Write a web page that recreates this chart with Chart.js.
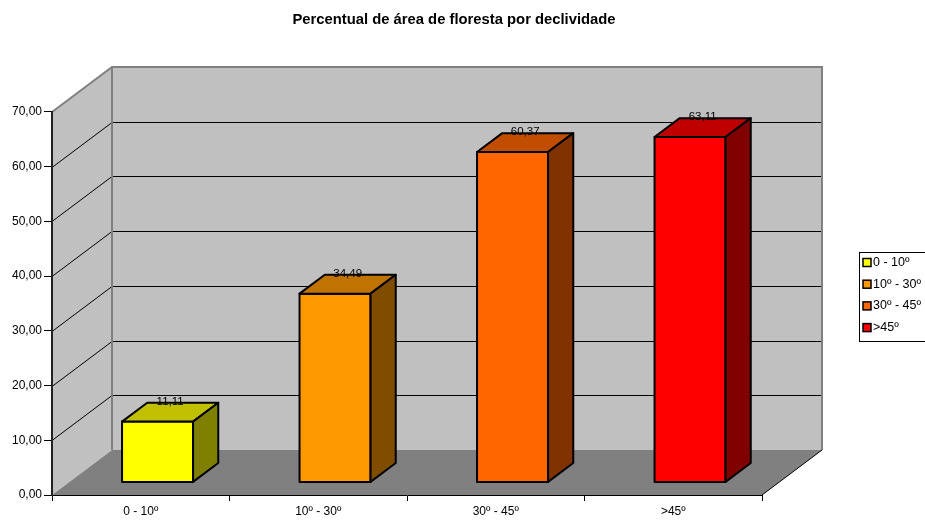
<!DOCTYPE html>
<html>
<head>
<meta charset="utf-8">
<script src="https://cdn.jsdelivr.net/npm/chart.js@4"></script>
<style>
  html, body { margin: 0; padding: 0; background: #fff; }
  #wrap { width: 925px; height: 520px; }
</style>
</head>
<body>
<div id="wrap"><canvas id="chart" width="925" height="520"></canvas></div>
<script>
const categories = ['0 - 10º', '10º - 30º', '30º - 45º', '>45º'];
const values = [11.11, 34.49, 60.37, 63.11];
const frontColors = ['#ffff00', '#ff9900', '#ff6600', '#ff0000'];
const topColors = ['#c0c000', '#c07300', '#c04d00', '#c00000'];
const sideColors = ['#808000', '#804d00', '#803300', '#800000'];
const chartTitle = 'Percentual de área de floresta por declividade';

const FONT = 'Arial, "Liberation Sans", sans-serif';

// 3D depth of the plot box and where the columns sit inside it
const DEPTH_X = 60, DEPTH_Y = -45;
const BAR_FRONT = 0.28, BAR_BACK = 0.70;

function fmt(v) {
    return v.toFixed(2).replace('.', ',');
}

function poly(ctx, pts, fill, stroke, lw) {
    ctx.beginPath();
    ctx.moveTo(pts[0][0], pts[0][1]);
    for (let i = 1; i < pts.length; i++) ctx.lineTo(pts[i][0], pts[i][1]);
    ctx.closePath();
    if (fill) { ctx.fillStyle = fill; ctx.fill(); }
    if (stroke) { ctx.strokeStyle = stroke; ctx.lineWidth = lw || 1; ctx.stroke(); }
}

function line(ctx, pts, color, lw) {
    ctx.beginPath();
    ctx.moveTo(pts[0][0], pts[0][1]);
    for (let i = 1; i < pts.length; i++) ctx.lineTo(pts[i][0], pts[i][1]);
    ctx.strokeStyle = color;
    ctx.lineWidth = lw;
    ctx.stroke();
}

// walls, floor and gridlines of the 3D box
const wallsPlugin = {
    id: 'walls',
    beforeDraw(chart) {
        const ctx = chart.ctx;
        const { left: L, right: R, top: T, bottom: B } = chart.chartArea;
        const yScale = chart.scales.y;
        ctx.save();
        // left wall
        poly(ctx, [[L, T], [L + DEPTH_X, T + DEPTH_Y], [L + DEPTH_X, B + DEPTH_Y], [L, B]], '#c0c0c0');
        // back wall
        poly(ctx, [[L + DEPTH_X, T + DEPTH_Y], [R + DEPTH_X, T + DEPTH_Y], [R + DEPTH_X, B + DEPTH_Y], [L + DEPTH_X, B + DEPTH_Y]], '#c0c0c0');
        // floor
        poly(ctx, [[L, B], [L + DEPTH_X, B + DEPTH_Y], [R + DEPTH_X, B + DEPTH_Y], [R, B]], '#808080');

        // gridlines
        yScale.ticks.forEach(t => {
            if (t.value <= yScale.min || t.value >= yScale.max) return;
            const py = Math.round(yScale.getPixelForValue(t.value)) + 0.5;
            line(ctx, [[L, py], [L + DEPTH_X, py + DEPTH_Y], [R + DEPTH_X, py + DEPTH_Y]], '#000', 1);
        });

        // box edges
        line(ctx, [[L, T], [L + DEPTH_X, T + DEPTH_Y], [R + DEPTH_X, T + DEPTH_Y], [R + DEPTH_X, B + DEPTH_Y]], '#808080', 2);
        line(ctx, [[L + DEPTH_X, T + DEPTH_Y], [L + DEPTH_X, B + DEPTH_Y]], '#808080', 2);
        line(ctx, [[R, B], [R + DEPTH_X, B + DEPTH_Y]], '#000', 1);
        ctx.restore();
    }
};

// 3D columns built from the bar elements, plus value labels
const columnsPlugin = {
    id: 'columns',
    afterDatasetsDraw(chart) {
        const ctx = chart.ctx;
        const meta = chart.getDatasetMeta(0);
        const fx = BAR_FRONT * DEPTH_X, fy = BAR_FRONT * DEPTH_Y;
        const bx = BAR_BACK * DEPTH_X, by = BAR_BACK * DEPTH_Y;
        ctx.save();
        ctx.lineJoin = 'round';
        meta.data.forEach((el, i) => {
            const l = el.x - el.width / 2, r = el.x + el.width / 2;
            const t = el.y, b = el.base;
            poly(ctx, [[l + fx, t + fy], [r + fx, t + fy], [r + fx, b + fy], [l + fx, b + fy]], frontColors[i], '#000', 2);
            poly(ctx, [[l + fx, t + fy], [l + bx, t + by], [r + bx, t + by], [r + fx, t + fy]], topColors[i], '#000', 2);
            poly(ctx, [[r + fx, t + fy], [r + bx, t + by], [r + bx, b + by], [r + fx, b + fy]], sideColors[i], '#000', 2);
        });
        ctx.fillStyle = '#000';
        ctx.font = '11.5px ' + FONT;
        ctx.textAlign = 'center';
        ctx.textBaseline = 'middle';
        meta.data.forEach((el, i) => {
            const l = el.x - el.width / 2, r = el.x + el.width / 2;
            ctx.fillText(fmt(values[i]), (l + fx + r + bx) / 2, el.y + by - 1);
        });
        ctx.restore();
    }
};

// boxed legend on the right
const legendBoxPlugin = {
    id: 'legendBox',
    afterDraw(chart) {
        const ctx = chart.ctx;
        const x0 = 859, y0 = 252, rowH = 21.7;
        ctx.save();
        ctx.strokeStyle = '#000';
        ctx.lineWidth = 1;
        ctx.strokeRect(x0 + 0.5, y0 + 0.5, 80, 89);
        ctx.font = '12.5px ' + FONT;
        ctx.textAlign = 'left';
        ctx.textBaseline = 'middle';
        categories.forEach((c, i) => {
            const cy = y0 + 10.5 + i * rowH;
            ctx.fillStyle = frontColors[i];
            ctx.fillRect(x0 + 4, cy - 4, 8, 8);
            ctx.lineWidth = 1.5;
            ctx.strokeRect(x0 + 4, cy - 4, 8, 8);
            ctx.fillStyle = '#000';
            ctx.fillText(c, x0 + 14, cy);
        });
        ctx.restore();
    }
};

new Chart(document.getElementById('chart'), {
    type: 'bar',
    data: {
        labels: categories,
        datasets: [{
            label: 'Percentual',
            data: values,
            backgroundColor: 'rgba(0,0,0,0)',
            borderWidth: 0,
            barPercentage: 0.4,
            categoryPercentage: 1
        }]
    },
    options: {
        responsive: false,
        animation: false,
        layout: { padding: { left: 0, right: 17, top: 0, bottom: 0 } },
        plugins: {
            legend: { display: false },
            tooltip: { enabled: false },
            title: {
                display: true,
                text: chartTitle,
                color: '#000',
                font: { family: FONT, size: 14.8, weight: 'bold', lineHeight: 1.2 },
                padding: { top: 11, bottom: 83.2 }
            }
        },
        scales: {
            x: {
                grid: { display: true, drawOnChartArea: false, drawTicks: true, tickLength: 6, color: '#000' },
                border: { display: true, color: '#000', width: 1 },
                ticks: { color: '#000', font: { family: FONT, size: 12 }, padding: 3, maxRotation: 0 },
                afterFit: s => { s.height = 25; }
            },
            y: {
                min: 0,
                max: 70,
                ticks: {
                    stepSize: 10,
                    color: '#000',
                    font: { family: FONT, size: 12 },
                    padding: 2,
                    callback: v => fmt(v)
                },
                grid: { display: true, drawOnChartArea: false, drawTicks: true, tickLength: 8, color: '#000' },
                border: { display: true, color: '#222', width: 2 },
                afterFit: s => { s.width = 52; }
            },
            yRight: {
                type: 'linear',
                position: 'right',
                display: true,
                grid: { display: false },
                border: { display: false },
                ticks: { display: false },
                afterFit: s => { s.width = 146; }
            }
        }
    },
    plugins: [wallsPlugin, columnsPlugin, legendBoxPlugin]
});
</script>
</body>
</html>
